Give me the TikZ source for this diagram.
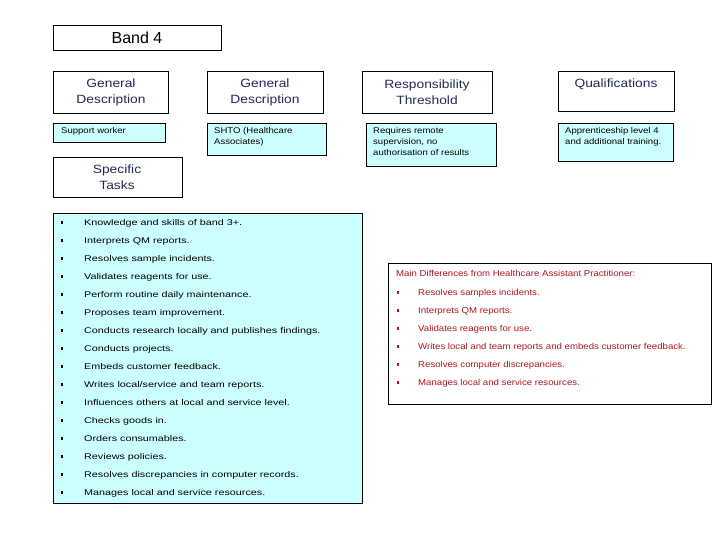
\documentclass[tikz,border=0pt]{standalone}
\usepackage{fontspec}
\setmainfont{Liberation Sans}
\newfontfamily\wideH{Liberation Sans}[FakeStretch=1.15]
\newfontfamily\wideL{Liberation Sans}[FakeStretch=1.3]
\newfontfamily\wideR{Liberation Sans}[FakeStretch=1.12]
\definecolor{cy}{HTML}{CCFFFF}
\definecolor{navy}{HTML}{1F2A55}
\definecolor{rd}{HTML}{B0141E}
\begin{document}
\begin{tikzpicture}[x=1pt,y=-1pt,
 hd/.style={text=navy,font=\wideH\fontsize{12}{16}\selectfont,align=center},
 sm/.style={anchor=north west,font=\wideH\fontsize{8.3}{11}\selectfont,inner sep=0,align=left},
 itm/.style={anchor=west,font=\wideL\fontsize{8.3}{10}\selectfont,inner sep=0},
 itr/.style={anchor=west,font=\wideR\fontsize{8.6}{10}\selectfont,inner sep=0,text=rd},
 bul/.style={fill,minimum size=2.4pt,inner sep=0}]
\useasboundingbox (0,0) rectangle (720,540);
\draw[thin] (53,25) rectangle (221,50);
\node (band) at (137,38) {\fontsize{16}{18}\selectfont Band 4};
\draw[thin] (53,71) rectangle (168,113);
\draw[thin] (207,71) rectangle (323,113);
\draw[thin] (362,71) rectangle (492,113);
\draw[thin] (558,71) rectangle (674,111);
\node[hd] (h1) at (111,92) {General\\Description};
\node[hd] (h2) at (265,92) {General\\Description};
\node[hd] (h3) at (427,92) {Responsibility\\Threshold};
\node[hd] (h4) at (616,84) {Qualifications};
\draw[thin,fill=cy] (53,123) rectangle (165,142);
\draw[thin,fill=cy] (207,123) rectangle (326,155);
\draw[thin,fill=cy] (366,123) rectangle (496,166);
\draw[thin,fill=cy] (558,123) rectangle (673,161);
\node[sm] (c1) at (61,127) {Support worker};
\node[sm] (c2) at (214,127) {SHTO (Healthcare\\Associates)};
\node[sm] (c3) at (373,127) {Requires remote\\supervision, no\\authorisation of results};
\node[sm] (c4) at (565,127) {Apprenticeship level 4\\and additional training.};
\draw[thin] (53,157) rectangle (182,197);
\node[hd] (st) at (117,177) {Specific\\Tasks};
\draw[thin,fill=cy] (53,213) rectangle (362,503);
\foreach \t [count=\i from 0] in {Knowledge and skills of band 3+.,Interprets QM reports.,Resolves sample incidents.,Validates reagents for use.,Perform routine daily maintenance.,Proposes team improvement.,Conducts research locally and publishes findings.,Conducts projects.,Embeds customer feedback.,Writes local/service and team reports.,Influences others at local and service level.,Checks goods in.,Orders consumables.,Reviews policies.,Resolves discrepancies in computer records.,Manages local and service resources.}{
 \node[bul] at (62,222.5+18*\i) {};
 \node[itm] at (84,223+18*\i) {\t};}
\draw[thin] (388,263) rectangle (711,404);
\node[itr] (mh) at (396,273) {Main Differences from Healthcare Assistant Practitioner:};
\foreach \t [count=\i from 0] in {Resolves samples incidents.,Interprets QM reports.,Validates reagents for use.,Writes local and team reports and embeds customer feedback.,Resolves computer discrepancies.,Manages local and service resources.}{
 \node[bul,fill=rd] at (398,292.5+18*\i) {};
 \node[itr] at (418,293+18*\i) {\t};}
\end{tikzpicture}
\end{document}
